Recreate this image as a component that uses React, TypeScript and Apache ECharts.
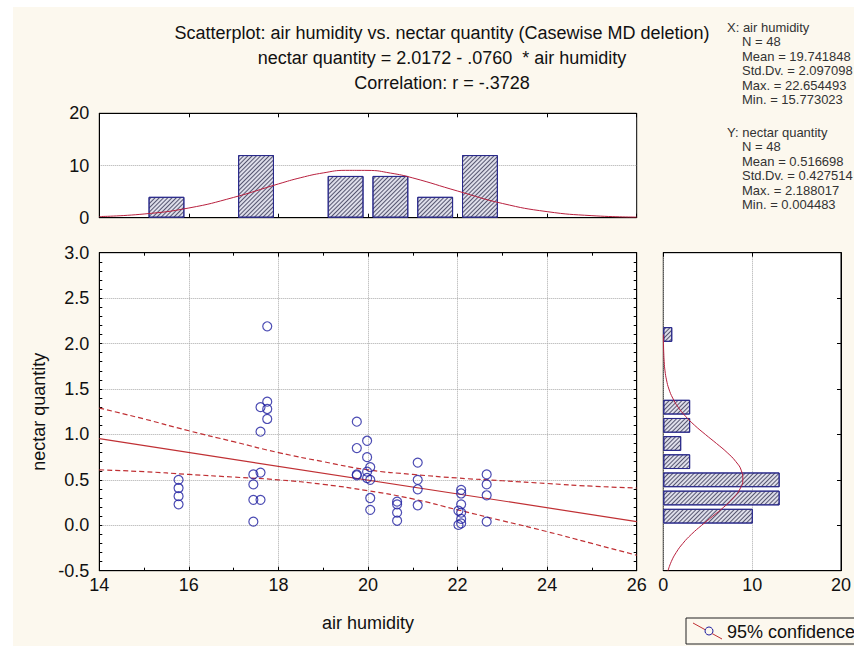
import React, { useEffect, useRef } from 'react';
import * as echarts from 'echarts';

const FONT = '"Liberation Sans", Arial, Helvetica, sans-serif';

// ---- scatter points (air humidity, nectar quantity) ----
const humidity = [
  15.77, 15.77, 15.77, 15.77,
  17.44, 17.44, 17.44, 17.44,
  17.6, 17.6, 17.6, 17.6,
  17.75, 17.75, 17.75, 17.75,
  19.75, 19.75, 19.75, 19.75,
  19.98, 19.98, 19.98, 19.98,
  20.05, 20.05, 20.05, 20.05,
  20.65, 20.65, 20.65, 20.65,
  21.11, 21.11, 21.11, 21.11,
  22.08, 22.08, 22.08, 22.02, 22.08, 22.08, 22.02, 22.08,
  22.65, 22.65, 22.65, 22.65,
];
const nectar = [
  0.5, 0.41, 0.32, 0.23,
  0.56, 0.45, 0.28, 0.04,
  1.3, 1.03, 0.58, 0.28,
  2.19, 1.36, 1.28, 1.17,
  1.14, 0.85, 0.56, 0.55,
  0.93, 0.75, 0.59, 0.52,
  0.64, 0.5, 0.3, 0.17,
  0.26, 0.23, 0.14, 0.05,
  0.69, 0.5, 0.396, 0.22,
  0.39, 0.35, 0.23, 0.16, 0.14, 0.07, 0.004, 0.02,
  0.56, 0.45, 0.33, 0.04,
];

// ---- regression line and 95% confidence band ----
const regX = [14, 26];
const regY = [0.953, 0.041];
const bandX = [14, 15, 16, 17, 18, 19, 20, 21, 22, 23, 24, 25, 26];
const bandUpper = [1.29, 1.17, 1.04, 0.92, 0.8, 0.7, 0.61, 0.56, 0.52, 0.49, 0.46, 0.43, 0.41];
const bandLower = [0.61, 0.59, 0.56, 0.53, 0.5, 0.45, 0.38, 0.29, 0.17, 0.05, -0.07, -0.2, -0.33];

// ---- top histogram (air humidity) ----
const xBinCenters = [15.5, 17.5, 19.5, 20.5, 21.5, 22.5];
const xBinCounts = [4, 12, 8, 8, 4, 12];
const xNormX = [14, 15, 16, 17, 18, 18.5, 19, 19.5, 20, 20.5, 21, 22, 23, 24, 25, 26];
const xNormY = [0.22, 0.71, 1.86, 3.89, 6.47, 7.67, 8.58, 9.07, 9.06, 8.55, 7.62, 5.11, 2.73, 1.16, 0.39, 0.11];

// ---- right histogram (nectar quantity) ----
const yBinLabels = ['0.0', '0.2', '0.4', '0.6', '0.8', '1.0', '1.2', '1.4', '1.6', '1.8', '2.0'];
const yBinCounts = [10, 13, 13, 3, 2, 3, 3, 0, 0, 0, 1];
const yNormY = [-0.5, -0.4, -0.3, -0.2, -0.1, 0, 0.1, 0.2, 0.3, 0.4, 0.5, 0.6, 0.7, 0.8, 0.9, 1.0, 1.1, 1.2, 1.3, 1.4, 1.5, 1.6, 1.7, 1.8, 1.9, 2.0, 2.1];
const yNormCount = [0.53, 0.9, 1.45, 2.2, 3.16, 4.32, 5.57, 6.81, 7.88, 8.63, 8.95, 8.79, 8.17, 7.19, 5.99, 4.73, 3.53, 2.5, 1.67, 1.06, 0.63, 0.36, 0.19, 0.1, 0.05, 0.02, 0.01];

// ---- texts ----
const titleLines = [
  'Scatterplot: air humidity vs. nectar quantity (Casewise MD deletion)',
  'nectar quantity = 2.0172 - .0760  * air humidity',
  'Correlation: r = -.3728',
];
const statsX = ['X: air humidity', 'N = 48', 'Mean = 19.741848', 'Std.Dv. = 2.097098', 'Max. = 22.654493', 'Min. = 15.773023'];
const statsY = ['Y: nectar quantity', 'N = 48', 'Mean = 0.516698', 'Std.Dv. = 0.427514', 'Max. = 2.188017', 'Min. = 0.004483'];
const xName = 'air humidity';
const yName = 'nectar quantity';
const legendText = '95% confidence';

// ---- layout ----
const L = 99.3, R = 636.7, T = 252.7, B = 570.7;
const W = R - L, H = B - T;
const TT = 113.3, TB = 217.7;
const RL = 663.3, RR = 842.3;
const PXY = H / 3.5;
const G3Top = B - (2.2 + 0.5) * PXY;
const G3H = 2.2 * PXY;

const CREAM = '#fcf8ee';
const RED = '#c03034';
const CURVE = '#b8203e';
const BLUE = '#1f1fa0';

const hatch = {
  color: '#dedeea',
  borderColor: '#2a2a8c',
  borderWidth: 1,
  decal: {
    symbol: 'rect',
    symbolSize: 1,
    dashArrayX: [1, 0],
    dashArrayY: [1, 2],
    rotation: -Math.PI / 4,
    color: 'rgba(40,40,70,0.75)',
  },
};

const line = { show: true, onZero: false, lineStyle: { color: '#000', width: 1 } };
const dotted = { show: true, lineStyle: { color: '#aaaaaa', type: 'dotted', width: 1 } };
const tickIn = (len: number) => ({ show: true, inside: true, length: len, lineStyle: { color: '#000' } });
const minor = (n: number) => ({ show: true, splitNumber: n, length: 3, lineStyle: { color: '#000' } });
const label = (margin: number, extra: any = {}) => ({
  show: true, fontSize: 18, fontFamily: FONT, color: '#111', margin, ...extra,
});

function buildOption(): any {
  const gridBase = { show: true, backgroundColor: '#fff', borderColor: '#000', borderWidth: 1 };
  const graphic: any[] = [
    { type: 'rect', silent: true, shape: { x: 0, y: 0, width: 854, height: 7 }, style: { fill: '#fff' } },
    { type: 'rect', silent: true, shape: { x: 0, y: 0, width: 13, height: 646 }, style: { fill: '#fff' } },
  ];
  titleLines.forEach((t, i) => {
    graphic.push({
      type: 'text', x: 442, y: 33 + i * 25,
      style: { text: t, fill: '#111', fontSize: 18, fontFamily: FONT, textAlign: 'center', textVerticalAlign: 'middle', verticalAlign: 'middle' },
    });
  });
  const addStats = (lines: string[], y0: number) => {
    lines.forEach((t, i) => {
      graphic.push({
        type: 'text', x: i === 0 ? 727 : 742, y: y0 + i * 14.5,
        style: { text: t, fill: '#333', fontSize: 13, fontFamily: FONT, textAlign: 'left', textVerticalAlign: 'middle', verticalAlign: 'middle' },
      });
    });
  };
  addStats(statsX, 27);
  addStats(statsY, 132);
  graphic.push({
    type: 'text', x: (L + R) / 2, y: 623,
    style: { text: xName, fill: '#111', fontSize: 18, fontFamily: FONT, textAlign: 'center', textVerticalAlign: 'middle', verticalAlign: 'middle' },
  });
  graphic.push({
    type: 'text', x: 39, y: (T + B) / 2, rotation: Math.PI / 2,
    style: { text: yName, fill: '#111', fontSize: 18, fontFamily: FONT, textAlign: 'center', textVerticalAlign: 'middle', verticalAlign: 'middle' },
  });
  // legend box
  graphic.push({ type: 'rect', shape: { x: 686, y: 618, width: 200, height: 26 }, style: { fill: CREAM, stroke: '#222', lineWidth: 1 } });
  graphic.push({ type: 'line', shape: { x1: 693, y1: 623, x2: 722, y2: 639 }, style: { stroke: RED, lineWidth: 1 } });
  graphic.push({ type: 'circle', shape: { cx: 709, cy: 631, r: 4 }, style: { fill: CREAM, stroke: BLUE, lineWidth: 1 } });
  graphic.push({
    type: 'text', x: 727, y: 632,
    style: { text: legendText, fill: '#111', fontSize: 18, fontFamily: FONT, textAlign: 'left', textVerticalAlign: 'middle', verticalAlign: 'middle' },
  });

  return {
    animation: false,
    backgroundColor: CREAM,
    textStyle: { fontFamily: FONT },
    grid: [
      { ...gridBase, left: L, top: T, width: W, height: H },
      { ...gridBase, left: L, top: TT, width: W, height: TB - TT },
      { ...gridBase, left: RL, top: T, width: RR - RL, height: H },
      { show: false, left: RL, top: G3Top, width: RR - RL, height: G3H },
    ],
    xAxis: [
      { type: 'value', gridIndex: 0, position: 'bottom', min: 14, max: 26, interval: 2, axisLine: line, axisTick: tickIn(4), minorTick: minor(2), axisLabel: label(5), splitLine: dotted },
      { type: 'value', gridIndex: 0, position: 'top', min: 14, max: 26, interval: 2, axisLine: line, axisTick: tickIn(4), minorTick: minor(2), axisLabel: { show: false }, splitLine: { show: false } },
      { type: 'value', gridIndex: 1, position: 'bottom', min: 14, max: 26, interval: 2, axisLine: line, axisTick: tickIn(4), axisLabel: { show: false }, splitLine: { show: false } },
      { type: 'value', gridIndex: 1, position: 'top', min: 14, max: 26, interval: 2, axisLine: line, axisTick: tickIn(4), axisLabel: { show: false }, splitLine: { show: false } },
      { type: 'value', gridIndex: 2, position: 'bottom', min: 0, max: 20, interval: 10, axisLine: line, axisTick: { show: false }, axisLabel: label(5), splitLine: dotted },
      { type: 'value', gridIndex: 2, position: 'top', min: 0, max: 20, interval: 10, axisLine: line, axisTick: tickIn(4), axisLabel: { show: false }, splitLine: { show: false } },
      { type: 'value', gridIndex: 3, min: 0, max: 20, show: false },
    ],
    yAxis: [
      { type: 'value', gridIndex: 0, position: 'left', min: -0.5, max: 3, interval: 0.5, axisLine: line, axisTick: tickIn(3), minorTick: minor(5), axisLabel: label(10, { formatter: (v: number) => v.toFixed(1) }), splitLine: dotted },
      { type: 'value', gridIndex: 0, position: 'right', min: -0.5, max: 3, interval: 0.5, axisLine: line, axisTick: tickIn(3), minorTick: minor(5), axisLabel: { show: false }, splitLine: { show: false } },
      { type: 'value', gridIndex: 1, position: 'left', min: 0, max: 20, interval: 10, axisLine: line, axisTick: { show: false }, axisLabel: label(10), splitLine: dotted },
      { type: 'value', gridIndex: 2, position: 'right', min: -0.5, max: 3, interval: 0.5, axisLine: line, axisTick: tickIn(4), axisLabel: { show: false }, splitLine: { show: false } },
      { type: 'category', gridIndex: 3, data: yBinLabels, show: false },
    ],
    series: [
      {
        type: 'line', xAxisIndex: 0, yAxisIndex: 0, data: regX.map((x, i) => [x, regY[i]]),
        symbol: 'none', lineStyle: { color: RED, width: 1.2 }, z: 3, silent: true,
      },
      {
        type: 'line', xAxisIndex: 0, yAxisIndex: 0, data: bandX.map((x, i) => [x, bandUpper[i]]), smooth: true,
        symbol: 'none', lineStyle: { color: RED, width: 1.2, type: [5, 3] }, z: 3, silent: true,
      },
      {
        type: 'line', xAxisIndex: 0, yAxisIndex: 0, data: bandX.map((x, i) => [x, bandLower[i]]), smooth: true,
        symbol: 'none', lineStyle: { color: RED, width: 1.2, type: [5, 3] }, z: 3, silent: true,
      },
      {
        type: 'scatter', xAxisIndex: 0, yAxisIndex: 0, data: humidity.map((x, i) => [x, nectar[i]]),
        symbol: 'circle', symbolSize: 9,
        itemStyle: { color: 'rgba(255,255,255,0)', borderColor: BLUE, borderWidth: 1.2 }, z: 5, silent: true,
      },
      {
        type: 'bar', xAxisIndex: 2, yAxisIndex: 2, data: xBinCenters.map((c, i) => [c, xBinCounts[i]]),
        barWidth: (W / 12) * 0.8, itemStyle: hatch, z: 2, silent: true,
      },
      {
        type: 'line', xAxisIndex: 2, yAxisIndex: 2, data: xNormX.map((x, i) => [x, xNormY[i]]), smooth: true,
        symbol: 'none', lineStyle: { color: CURVE, width: 1 }, z: 5, silent: true,
      },
      {
        type: 'bar', xAxisIndex: 6, yAxisIndex: 4, data: yBinCounts.map((c) => (c === 0 ? '-' : c)),
        barCategoryGap: '19%', itemStyle: hatch, z: 2, silent: true,
      },
      {
        type: 'line', xAxisIndex: 4, yAxisIndex: 3, data: yNormY.map((y, i) => [yNormCount[i], y]), smooth: true,
        symbol: 'none', lineStyle: { color: CURVE, width: 1 }, z: 5, silent: true,
      },
    ],
    graphic,
  };
}

export default function App() {
  const ref = useRef<HTMLDivElement>(null);
  useEffect(() => {
    if (!ref.current) return;
    const chart = echarts.init(ref.current, null, { renderer: 'svg' });
    chart.setOption(buildOption());
    return () => chart.dispose();
  }, []);
  return <div ref={ref} style={{ position: 'absolute', left: 0, top: 0, width: 854, height: 646 }} />;
}
